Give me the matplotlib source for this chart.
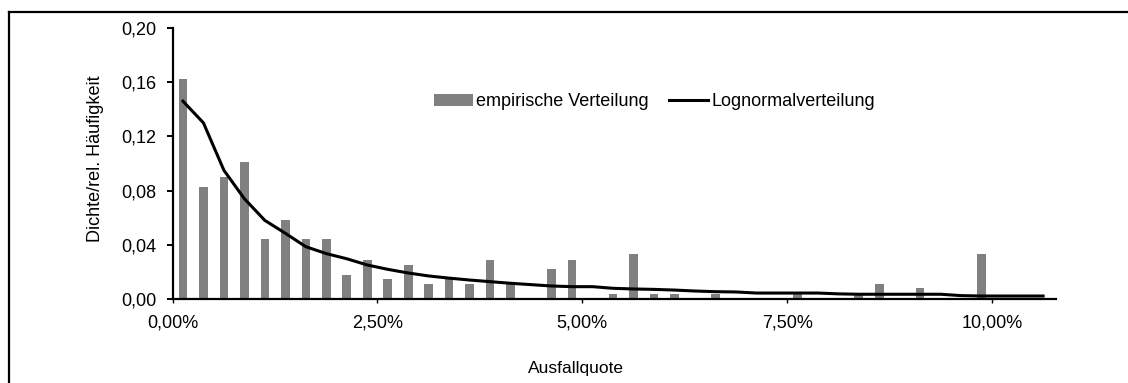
import matplotlib
matplotlib.use("Agg")
import matplotlib.pyplot as plt
from matplotlib.lines import Line2D
from matplotlib.ticker import FuncFormatter

# ---- data ----
bin_centers = [0.125, 0.375, 0.625, 0.875, 1.125, 1.375, 1.625, 1.875, 2.125, 2.375,
               2.625, 2.875, 3.125, 3.375, 3.625, 3.875, 4.125, 4.375, 4.625, 4.875,
               5.125, 5.375, 5.625, 5.875, 6.125, 6.375, 6.625, 6.875, 7.125, 7.375,
               7.625, 7.875, 8.125, 8.375, 8.625, 8.875, 9.125, 9.375, 9.625, 9.875,
               10.125, 10.375, 10.625]
empirical = [0.162, 0.083, 0.090, 0.101, 0.044, 0.058, 0.044, 0.044, 0.0175, 0.029,
             0.0145, 0.025, 0.011, 0.0145, 0.011, 0.029, 0.0115, 0.0, 0.022, 0.029,
             0.0, 0.0035, 0.033, 0.0035, 0.0035, 0.0, 0.0035, 0.0, 0.0, 0.0,
             0.0035, 0.0, 0.0, 0.0035, 0.011, 0.0, 0.008, 0.0, 0.0, 0.033]
lognormal = [0.146, 0.130, 0.095, 0.074, 0.058, 0.0485, 0.0386, 0.0335, 0.0297, 0.0251,
             0.0219, 0.0192, 0.0170, 0.0154, 0.0140, 0.0128, 0.0116, 0.0106, 0.0096, 0.0091,
             0.0091, 0.0079, 0.0074, 0.0071, 0.0066, 0.0059, 0.0054, 0.0052, 0.0044, 0.0044,
             0.0044, 0.0044, 0.0038, 0.0035, 0.0035, 0.0035, 0.0035, 0.0035, 0.0025, 0.0022,
             0.0022, 0.0022, 0.0022]
x_ticks = [0, 2.5, 5, 7.5, 10]
y_ticks = [0.00, 0.04, 0.08, 0.12, 0.16, 0.20]
label_bars = "empirische Verteilung"
label_line = "Lognormalverteilung"
x_title = "Ausfallquote"
y_title = "Dichte/rel. Häufigkeit"

plt.rcParams['font.family'] = ['Liberation Sans', 'DejaVu Sans']
W, H = 1128, 383
fig = plt.figure(figsize=(W / 100, H / 100), dpi=100)
fig.patch.set_facecolor('white')

ax_l, ax_r, ax_t, ax_b = 172.7, 1053.3, 28, 299
ax = fig.add_axes([ax_l / W, 1 - ax_b / H, (ax_r - ax_l) / W, (ax_b - ax_t) / H])

n_bars = len(empirical)
bars = ax.bar(bin_centers[:n_bars], empirical, width=0.105, color='#808080',
              label=label_bars, zorder=2)
line, = ax.plot(bin_centers, lognormal, color='black', lw=2.2, label=label_line, zorder=3)

ax.set_xlim(0, 10.75)
ax.set_ylim(0, 0.20)
ax.set_xticks(x_ticks)
ax.set_yticks(y_ticks)
ax.xaxis.set_major_formatter(FuncFormatter(lambda v, p: f"{v:.2f}%".replace('.', ',')))
ax.yaxis.set_major_formatter(FuncFormatter(lambda v, p: f"{v:.2f}".replace('.', ',')))

for s in ['top', 'right']:
    ax.spines[s].set_visible(False)
for s in ['left', 'bottom']:
    ax.spines[s].set_linewidth(1.6)
    ax.spines[s].set_color('black')
ax.spines['bottom'].set_bounds(0, 10.78)

ax.tick_params(axis='y', direction='out', length=4.5, width=1.4, pad=7, labelsize=13)
ax.tick_params(axis='x', direction='out', length=3, width=1.0, pad=8, labelsize=13)

fig.text(576 / W, 1 - 368 / H, x_title, ha='center', va='center', fontsize=12.5)
fig.text(95 / W, 1 - 159 / H, y_title, ha='center', va='center', rotation=90, fontsize=13)

leg = ax.legend([bars, line], [label_bars, label_line],
                loc='center left', bbox_to_anchor=(434 / W, 1 - 102 / H),
                bbox_transform=fig.transFigure, ncol=2, frameon=False,
                fontsize=13, handlelength=2.15, handleheight=0.65,
                handletextpad=0.2, columnspacing=1.1, borderpad=0, borderaxespad=0)

# outer frame (cropped at right and bottom)
fig.add_artist(Line2D([9 / W, 9 / W], [0, 1 - 12 / H], transform=fig.transFigure,
                      color='black', lw=1.6))
fig.add_artist(Line2D([9 / W, 1], [1 - 12 / H, 1 - 12 / H], transform=fig.transFigure,
                      color='black', lw=1.6))

fig.savefig('out.png', dpi=100, facecolor='white')
